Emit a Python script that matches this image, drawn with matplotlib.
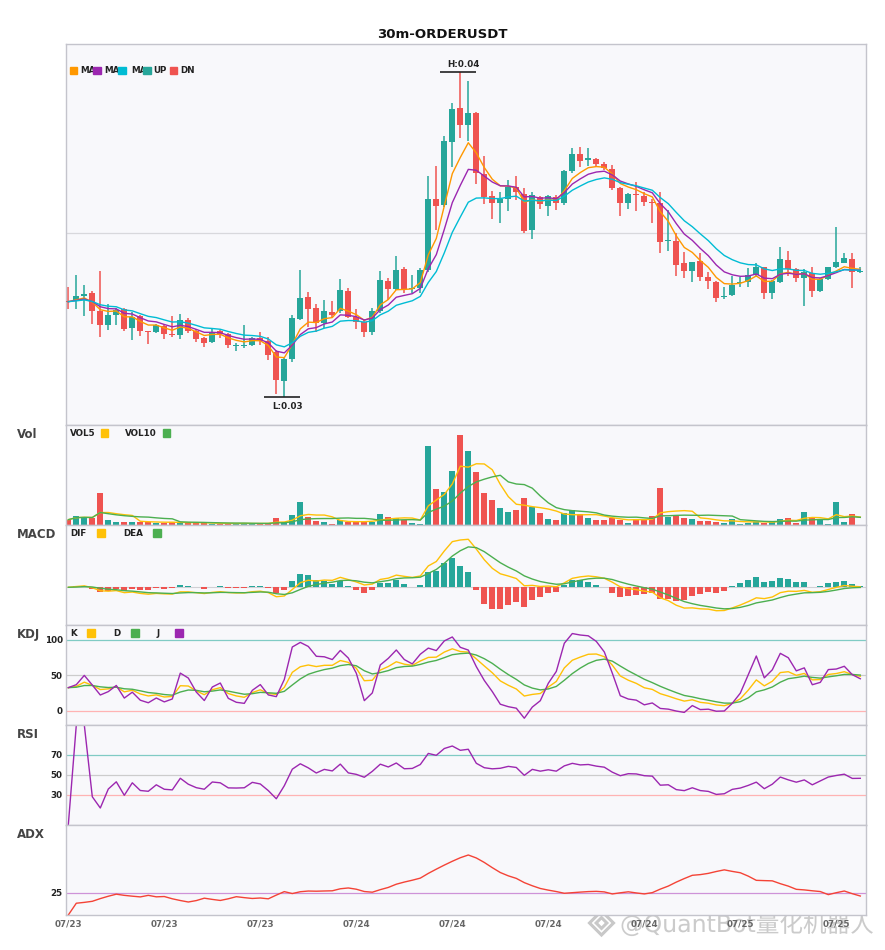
import numpy as np
import pandas as pd
import matplotlib
matplotlib.use('Agg')
import matplotlib.pyplot as plt
from matplotlib.patches import Rectangle, Polygon
import matplotlib.patheffects as pe

# =========================================================
# data (30m candles)
# =========================================================
SYMBOL = '30m-ORDERUSDT'
START_TIME = '2025-07-23 06:00'

opens = [0.03298, 0.03297, 0.03313, 0.03321, 0.03267, 0.03226, 0.03255, 0.03273, 0.03217, 0.03253,
         0.03206, 0.03205, 0.03223, 0.03198, 0.03196, 0.03239, 0.03208, 0.03186, 0.03174, 0.03207,
         0.03198, 0.03162, 0.03163, 0.03166, 0.03186, 0.03177, 0.03143, 0.03058, 0.03123, 0.03243,
         0.03308, 0.03276, 0.03230, 0.03264, 0.03268, 0.03327, 0.03250, 0.03235, 0.03205, 0.03268,
         0.03358, 0.03333, 0.03393, 0.03333, 0.03335, 0.03390, 0.03602, 0.03585, 0.03773, 0.03875,
         0.03825, 0.03860, 0.03678, 0.03612, 0.03592, 0.03603, 0.03638, 0.03618, 0.03510, 0.03608,
         0.03583, 0.03608, 0.03592, 0.03687, 0.03738, 0.03720, 0.03722, 0.03708, 0.03693, 0.03637,
         0.03592, 0.03618, 0.03612, 0.03595, 0.03590, 0.03476, 0.03478, 0.03410, 0.03388, 0.03417,
         0.03370, 0.03355, 0.03308, 0.03315, 0.03352, 0.03355, 0.03375, 0.03398, 0.03322, 0.03355,
         0.03420, 0.03392, 0.03365, 0.03380, 0.03328, 0.03362, 0.03398, 0.03412, 0.03423, 0.03383]

highs = [0.03340, 0.03375, 0.03345, 0.03327, 0.03387, 0.03287, 0.03276, 0.03277, 0.03265, 0.03255,
         0.03207, 0.03227, 0.03227, 0.03252, 0.03258, 0.03245, 0.03212, 0.03190, 0.03215, 0.03210,
         0.03200, 0.03170, 0.03225, 0.03190, 0.03205, 0.03188, 0.03150, 0.03125, 0.03255, 0.03390,
         0.03325, 0.03287, 0.03300, 0.03297, 0.03363, 0.03336, 0.03272, 0.03244, 0.03275, 0.03387,
         0.03365, 0.03432, 0.03400, 0.03375, 0.03395, 0.03672, 0.03702, 0.03792, 0.03892, 0.03985,
         0.03957, 0.03865, 0.03732, 0.03628, 0.03623, 0.03660, 0.03673, 0.03635, 0.03625, 0.03613,
         0.03615, 0.03615, 0.03690, 0.03757, 0.03760, 0.03757, 0.03725, 0.03715, 0.03705, 0.03639,
         0.03622, 0.03653, 0.03625, 0.03603, 0.03623, 0.03570, 0.03500, 0.03443, 0.03415, 0.03440,
         0.03385, 0.03357, 0.03340, 0.03372, 0.03370, 0.03395, 0.03410, 0.03400, 0.03360, 0.03458,
         0.03448, 0.03397, 0.03392, 0.03398, 0.03365, 0.03400, 0.03518, 0.03440, 0.03440, 0.03400]

lows = [0.03273, 0.03273, 0.03253, 0.03228, 0.03190, 0.03210, 0.03225, 0.03208, 0.03180, 0.03192,
        0.03169, 0.03200, 0.03183, 0.03189, 0.03183, 0.03202, 0.03175, 0.03160, 0.03171, 0.03186,
        0.03157, 0.03148, 0.03155, 0.03162, 0.03165, 0.03120, 0.03017, 0.03008, 0.03115, 0.03240,
        0.03220, 0.03203, 0.03215, 0.03250, 0.03260, 0.03245, 0.03212, 0.03190, 0.03195, 0.03260,
        0.03300, 0.03330, 0.03320, 0.03320, 0.03320, 0.03385, 0.03510, 0.03580, 0.03700, 0.03785,
        0.03778, 0.03648, 0.03588, 0.03543, 0.03532, 0.03567, 0.03600, 0.03502, 0.03483, 0.03573,
        0.03552, 0.03570, 0.03585, 0.03682, 0.03700, 0.03703, 0.03700, 0.03690, 0.03630, 0.03553,
        0.03572, 0.03568, 0.03583, 0.03532, 0.03440, 0.03448, 0.03373, 0.03367, 0.03355, 0.03357,
        0.03332, 0.03295, 0.03302, 0.03313, 0.03340, 0.03340, 0.03370, 0.03303, 0.03303, 0.03350,
        0.03372, 0.03355, 0.03283, 0.03310, 0.03325, 0.03360, 0.03395, 0.03410, 0.03335, 0.03380]

closes = [0.03295, 0.03312, 0.03317, 0.03268, 0.03226, 0.03255, 0.03270, 0.03214, 0.03250, 0.03208,
          0.03203, 0.03225, 0.03199, 0.03195, 0.03240, 0.03206, 0.03183, 0.03172, 0.03203, 0.03198,
          0.03165, 0.03164, 0.03165, 0.03186, 0.03177, 0.03135, 0.03060, 0.03123, 0.03247, 0.03306,
          0.03274, 0.03230, 0.03267, 0.03254, 0.03330, 0.03250, 0.03235, 0.03205, 0.03267, 0.03360,
          0.03333, 0.03390, 0.03333, 0.03337, 0.03390, 0.03602, 0.03583, 0.03777, 0.03873, 0.03825,
          0.03860, 0.03680, 0.03610, 0.03592, 0.03603, 0.03640, 0.03625, 0.03508, 0.03615, 0.03587,
          0.03612, 0.03592, 0.03687, 0.03738, 0.03718, 0.03726, 0.03707, 0.03695, 0.03637, 0.03592,
          0.03618, 0.03615, 0.03595, 0.03590, 0.03475, 0.03479, 0.03405, 0.03388, 0.03413, 0.03370,
          0.03357, 0.03307, 0.03312, 0.03345, 0.03355, 0.03375, 0.03400, 0.03322, 0.03358, 0.03423,
          0.03392, 0.03365, 0.03385, 0.03328, 0.03362, 0.03398, 0.03413, 0.03425, 0.03385, 0.03386]

# volume in k
volumes = [16, 28, 25, 21, 97, 16, 10, 10, 10, 10,
           9, 6, 7, 10, 7, 6, 6, 6, 4, 4,
           4, 4, 7, 4, 4, 5, 22, 10, 31, 70,
           25, 13, 10, 4, 16, 10, 10, 10, 10, 34,
           25, 22, 16, 7, 4, 238, 109, 100, 163, 271,
           223, 160, 97, 76, 52, 40, 46, 82, 55, 37,
           19, 16, 37, 46, 34, 22, 16, 16, 22, 16,
           7, 19, 16, 28, 112, 25, 28, 22, 19, 13,
           13, 10, 7, 19, 4, 7, 10, 7, 13, 19,
           22, 7, 40, 25, 16, 4, 70, 10, 34, 1]

MA_SPANS = [5, 8, 13]

# =========================================================
# style
# =========================================================
W, H = 885, 950
UP_C = '#26A69A'
DN_C = '#EF5350'
MA_COLORS = ['#FF9800', '#9C27B0', '#00BCD4']
YEL = '#FFC107'
GRN = '#4CAF50'
PUR = '#9C27B0'
BG = '#F8F8FB'
SPINE = '#C4C4CC'
TXT = '#222222'

df = pd.DataFrame({'open': opens, 'high': highs, 'low': lows,
                   'close': closes, 'volume': volumes})
n = len(df)
x = np.arange(n)
times = pd.date_range(START_TIME, periods=n, freq='30min')
up = df['close'] >= df['open']
bar_colors = np.where(up, UP_C, DN_C)

# ---------- indicators ----------
close = df['close']
mas = [close.ewm(span=s, adjust=False).mean() for s in MA_SPANS]
vol5 = df['volume'].rolling(5, min_periods=1).mean()
vol10 = df['volume'].rolling(10, min_periods=1).mean()

# MACD(6, 13, 5)
ema_f = close.ewm(span=6, adjust=False).mean()
ema_s = close.ewm(span=13, adjust=False).mean()
dif = ema_f - ema_s
dea = dif.ewm(span=5, adjust=False).mean()
hist = 2 * (dif - dea)

# KDJ(9, 3, 3)
low9 = df['low'].rolling(9, min_periods=1).min()
high9 = df['high'].rolling(9, min_periods=1).max()
rsv = (close - low9) / (high9 - low9) * 100
k = rsv.ewm(com=2, adjust=False).mean()
d = k.ewm(com=2, adjust=False).mean()
j = 3 * k - 2 * d

# RSI(14)
delta = close.diff()
gain = delta.clip(lower=0).ewm(com=13).mean()
loss = (-delta.clip(upper=0)).ewm(com=13).mean()
rsi = (100 * gain / (gain + loss)).fillna(0)

# ADX(14)
up_move = df['high'].diff()
down_move = -df['low'].diff()
plus_dm = pd.Series(np.where((up_move > down_move) & (up_move > 0), up_move, 0.0))
minus_dm = pd.Series(np.where((down_move > up_move) & (down_move > 0), down_move, 0.0))
prev_c = close.shift(1)
tr = pd.concat([df['high'] - df['low'], (df['high'] - prev_c).abs(),
                (df['low'] - prev_c).abs()], axis=1).max(axis=1)
atr = tr.ewm(span=14, adjust=False).mean()
pdi = 100 * plus_dm.ewm(span=14, adjust=False).mean() / atr
mdi = 100 * minus_dm.ewm(span=14, adjust=False).mean() / atr
dx = ((pdi - mdi).abs() / (pdi + mdi) * 100).fillna(0)
adx = dx.ewm(span=14, adjust=False).mean()

# =========================================================
# layout
# =========================================================
fig = plt.figure(figsize=(W / 100, H / 100), dpi=100)


def add_panel(top_px, bot_px):
    ax = fig.add_axes([65.5 / W, 1 - bot_px / H, 800 / W, (bot_px - top_px) / H])
    ax.set_facecolor(BG)
    for s in ax.spines.values():
        s.set_color(SPINE)
        s.set_linewidth(1)
    ax.set_xlim(-0.35, n - 0.35)
    ax.tick_params(length=0, labelsize=6.3, colors=TXT, pad=2)
    ax.set_xticks([])
    return ax


def fig_legend(items, y_px):
    # items: (label, color, text_x, square_x)
    for label, color, tx, sx in items:
        fig.text(tx / W, 1 - y_px / H, label, fontsize=6.3, fontweight='bold',
                 color=TXT, va='center', ha='left')
        fig.add_artist(Rectangle((sx / W, 1 - (y_px + 3.8) / H), 7.6 / W, 7.6 / H,
                                 transform=fig.transFigure, color=color, zorder=5))


def panel_label(text, y_px):
    fig.text(17 / W, 1 - y_px / H, text, fontsize=8.5, fontweight='bold',
             color='#444444', va='center', ha='left')


ax_k = add_panel(44, 425)
ax_v = add_panel(425, 525)
ax_m = add_panel(525, 625)
ax_kdj = add_panel(625, 725)
ax_r = add_panel(725, 825)
ax_a = add_panel(825, 915)

# ---------- candles ----------
body_lo = np.minimum(df['open'], df['close'])
body_h = np.maximum((df['close'] - df['open']).abs(), 0.00002)
ax_k.vlines(x, df['low'], df['high'], colors=bar_colors, lw=1.1, zorder=2)
ax_k.bar(x, body_h, bottom=body_lo, width=0.74, color=bar_colors, zorder=3)
for ma, c in zip(mas, MA_COLORS):
    ax_k.plot(x, ma, color=c, lw=1.0, zorder=4)

lo, hi = df['low'].min(), df['high'].max()
rng = hi - lo
ax_k.set_ylim(lo - 0.085 * rng, hi + 0.085 * rng)
ax_k.set_yticks([0.035])
ax_k.set_yticklabels([])
ax_k.grid(axis='y', color='#D8D8DC', lw=0.9)
ax_k.set_axisbelow(True)

i_hi = int(df['high'].idxmax())
i_lo = int(df['low'].idxmin())
ax_k.hlines(hi, i_hi - 2.5, i_hi + 2, color=TXT, lw=1.2, zorder=5)
ax_k.annotate(f'H:{hi:.2f}', (i_hi + 0.45, hi), xytext=(0, 5.2), textcoords='offset points',
              ha='center', va='center', fontsize=6.3, fontweight='bold', color=TXT)
ax_k.hlines(lo, i_lo - 2.5, i_lo + 2, color=TXT, lw=1.2, zorder=5)
ax_k.annotate(f'L:{lo:.2f}', (i_lo + 0.45, lo), xytext=(0, -6.3), textcoords='offset points',
              ha='center', va='center', fontsize=6.3, fontweight='bold', color=TXT)

# main legend (labels get cut by the next square, like the original)
main_items = [(f'MA{MA_SPANS[0]}', MA_COLORS[0], 80.7, 70.0),
              (f'MA{MA_SPANS[1]}', MA_COLORS[1], 104.7, 93.3),
              (f'MA{MA_SPANS[2]}', MA_COLORS[2], 131.7, 118.3),
              ('UP', UP_C, 153.3, 143.3), ('DN', DN_C, 180.0, 170.0)]
next_sq = [sx for _, _, _, sx in main_items[1:]] + [W]
for (label, color, tx, sx), clip_x in zip(main_items, next_sq):
    t = fig.text(tx / W, 1 - 70.5 / H, label, fontsize=6.3, fontweight='bold',
                 color=TXT, va='center', ha='left')
    clip = Rectangle((tx / W, 1 - 80 / H), (clip_x - tx) / W, 20 / H,
                     transform=fig.transFigure)
    t.set_clip_path(clip)
    fig.add_artist(Rectangle((sx / W, 1 - 74.2 / H), 7.3 / W, 7.3 / H,
                             transform=fig.transFigure, color=color, zorder=5))

# ---------- volume ----------
ax_v.bar(x, df['volume'], width=0.74, color=bar_colors)
ax_v.plot(x, vol5, color=YEL, lw=1.0)
ax_v.plot(x, vol10, color=GRN, lw=1.0)
ax_v.set_ylim(0, df['volume'].max() * 1.105)
ax_v.set_yticks([])
panel_label('Vol', 435)
fig_legend([('VOL5', YEL, 70, 100.7), ('VOL10', GRN, 125, 162.7)], 433)

# ---------- MACD ----------
ax_m.bar(x, hist, width=0.74, color=np.where(hist >= 0, UP_C, DN_C))
ax_m.plot(x, dif, color=YEL, lw=1.0)
ax_m.plot(x, dea, color=GRN, lw=1.0)
m_hi = max(dif.max(), dea.max(), hist.max())
m_lo = min(dif.min(), dea.min(), hist.min())
m_rng = m_hi - m_lo
ax_m.set_ylim(m_lo - 0.2 * m_rng, m_hi + 0.2 * m_rng)
ax_m.axhline(0, color='#D0D0D4', lw=0.8, zorder=0)
ax_m.set_yticks([])
panel_label('MACD', 534)
fig_legend([('DIF', YEL, 70, 97.3), ('DEA', GRN, 123.3, 153.3)], 533)

# ---------- KDJ ----------
for lvl, c in [(100, '#80CBC4'), (50, '#CCCCCC'), (0, '#FFB3B3')]:
    ax_kdj.axhline(lvl, color=c, lw=0.9, zorder=0)
ax_kdj.plot(x, k, color=YEL, lw=1.0)
ax_kdj.plot(x, d, color=GRN, lw=1.0)
ax_kdj.plot(x, j, color=PUR, lw=1.0)
ax_kdj.set_ylim(-19.7, 121)
ax_kdj.set_yticks([0, 50, 100])
panel_label('KDJ', 634.5)
fig_legend([('K', YEL, 70, 87.3), ('D', GRN, 113.3, 131), ('J', PUR, 156.7, 175)], 633)

# ---------- RSI ----------
for lvl, c in [(70, '#80CBC4'), (50, '#CCCCCC'), (30, '#FFB3B3')]:
    ax_r.axhline(lvl, color=c, lw=0.9, zorder=0)
ax_r.plot(x, rsi, color=PUR, lw=1.0)
ax_r.set_ylim(0, 100)
ax_r.set_yticks([30, 50, 70])
panel_label('RSI', 734)

# ---------- ADX ----------
ax_a.axhline(25, color='#CE93D8', lw=0.9, zorder=0)
ax_a.plot(x, adx, color='#F44336', lw=1.0)
ax_a.set_ylim(0, adx.max() * 1.5)
ax_a.set_yticks([25])
panel_label('ADX', 834.5)

tick_idx = x[::12]
ax_a.set_xticks(tick_idx)
ax_a.set_xticklabels(times[tick_idx].strftime('%m/%d'))
ax_a.tick_params(axis='x', labelcolor='#666666', pad=3)

for ax in [ax_kdj, ax_r, ax_a]:
    for lab in ax.get_yticklabels() + ax.get_xticklabels():
        lab.set_fontweight('bold')

# ---------- title + watermark ----------
fig.text(0.5, 1 - 34 / H, SYMBOL, ha='center', va='center',
         fontsize=9.5, fontweight='bold', color='#111111')

# watermark sits behind the axes, so the date labels stay readable on top of it
wm = fig.text(620 / W, 1 - 925 / H, '@QuantBot量化机器人', ha='left', va='center',
              fontsize=17, color='#C4C4C4', alpha=0.85,
              family=['DejaVu Sans', 'Noto Sans CJK SC'], zorder=-1)
wm.set_path_effects([pe.withStroke(linewidth=2.5, foreground='white')])
cx, cy, r = 601.5, 923, 12
for rr in (r, r * 0.45):
    fig.add_artist(Polygon([((cx - rr) / W, 1 - cy / H), (cx / W, 1 - (cy - rr) / H),
                            ((cx + rr) / W, 1 - cy / H), (cx / W, 1 - (cy + rr) / H)],
                           closed=True, fill=False, ec='#C8C8C8', lw=2.2,
                           transform=fig.transFigure, zorder=-1))

fig.savefig('out.png', dpi=100, facecolor='white')
